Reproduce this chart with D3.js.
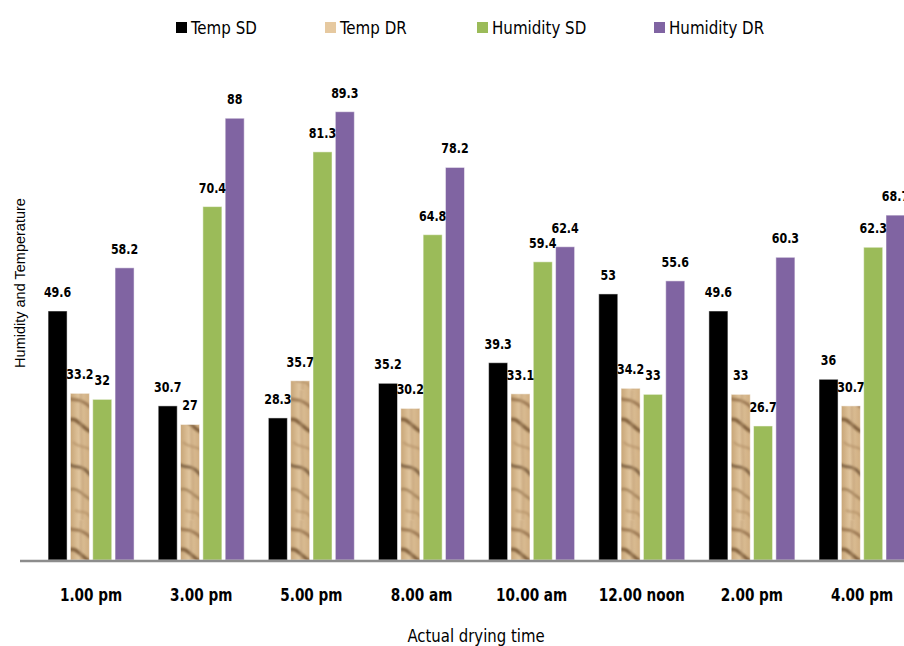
<!DOCTYPE html>
<html><head><meta charset="utf-8">
<script src="https://cdn.jsdelivr.net/npm/d3@7"></script>
<style>
body{margin:0;background:#fff;}
svg{display:block;}
.cond{font-family:"DejaVu Sans Condensed","Liberation Sans Narrow","Arial Narrow",sans-serif;font-stretch:condensed;}
</style></head>
<body><svg id="chart" width="904" height="646"></svg>
<script>
const categories = ["1.00 pm","3.00 pm","5.00 pm","8.00 am","10.00 am","12.00 noon","2.00 pm","4.00 pm"];
const seriesNames = ["Temp SD","Temp DR","Humidity SD","Humidity DR"];
const tempSD = [49.6,30.7,28.3,35.2,39.3,53,49.6,36];
const tempDR = [33.2,27,35.7,30.2,33.1,34.2,33,30.7];
const humiditySD = [32,70.4,81.3,64.8,59.4,33,26.7,62.3];
const humidityDR = [58.2,88,89.3,78.2,62.4,55.6,60.3,68.7];
const seriesValues = [tempSD,tempDR,humiditySD,humidityDR];
const xTitle = "Actual drying time";
const yTitle = "Humidity and Temperature";

const svg = d3.select("#chart");
const defs = svg.append("defs");
const blur = defs.append("filter").attr("id","soft").attr("x","-20%").attr("y","-20%").attr("width","140%").attr("height","140%");
blur.append("feGaussianBlur").attr("stdDeviation",0.9);
// wood/sand texture for Temp DR
const pat = defs.append("pattern").attr("id","wood").attr("patternUnits","userSpaceOnUse")
  .attr("width",22).attr("height",130);
const g0 = defs.append("linearGradient").attr("id","woodGrad").attr("x1",0).attr("x2",1).attr("y1",0).attr("y2",0);
g0.append("stop").attr("offset","0%").attr("stop-color","#c4a070");
g0.append("stop").attr("offset","45%").attr("stop-color","#e0c59e");
g0.append("stop").attr("offset","100%").attr("stop-color","#cdaa7c");
pat.append("rect").attr("width",22).attr("height",130).attr("fill","url(#woodGrad)");
const sg = pat.append("g").attr("filter","url(#soft)");
const streaks = [
  ["M0,8 C5,12 10,6 22,18","#8a6540",3,0.75],
  ["M0,30 C7,26 13,38 22,42","#6e4e2c",3.5,0.8],
  ["M4,52 C9,58 15,55 22,60","#a8845a",2,0.6],
  ["M0,74 C6,80 12,72 22,86","#5e4226",3,0.7],
  ["M0,100 C8,96 14,106 22,110","#8b6844",2.5,0.65],
  ["M6,120 C10,124 16,118 22,128","#a07a50",2,0.55],
  ["M12,0 C10,40 16,80 13,130","#b8946a",2.5,0.45]
];
streaks.forEach(s=>sg.append("path").attr("d",s[0]).attr("stroke",s[1]).attr("stroke-width",s[2])
  .attr("fill","none").attr("opacity",s[3]));

const colors = ["#000000","url(#wood)","#9bbb59","#8064a2"];
const legendColors = ["#000000","#e6c9a0","#9bbb59","#8064a2"];

function condense(sel, f){
  sel.each(function(){
    const w = this.getComputedTextLength();
    this.setAttribute("textLength", w*f);
    this.setAttribute("lengthAdjust","spacingAndGlyphs");
  });
}

const baseY = 560;
const y = d3.scaleLinear().domain([0,100]).range([baseY,58]);
const x0 = d3.scaleBand().domain(categories).range([36,917.1]).paddingInner(0).paddingOuter(0);
const x1 = d3.scaleBand().domain(seriesNames).range([-43,43]).paddingInner(0.148).paddingOuter(0);

const groups = svg.append("g").selectAll("g").data(categories).join("g")
  .attr("transform",c=>`translate(${x0(c)+x0.bandwidth()/2},0)`);

groups.each(function(c,i){
  const g = d3.select(this);
  seriesNames.forEach((s,j)=>{
    const v = seriesValues[j][i];
    g.append("rect").attr("x",x1(s)).attr("width",x1.bandwidth())
      .attr("y",y(v)).attr("height",baseY-y(v)).attr("fill",colors[j])
      .attr("stroke","#fff").attr("stroke-opacity",0.5).attr("stroke-width",1);
  });
  seriesNames.forEach((s,j)=>{
    const v = seriesValues[j][i];
    g.append("text").attr("class","cond vlab").attr("x",x1(s)+x1.bandwidth()/2).attr("y",y(v)-14)
      .attr("text-anchor","middle").attr("font-size",14).attr("font-weight","bold").attr("fill","#000").text(v);
  });
});
condense(svg.selectAll(".vlab"),0.88);

// axis baseline
svg.append("line").attr("x1",20).attr("x2",904).attr("y1",baseY+1).attr("y2",baseY+1)
  .attr("stroke","#8c8c8c").attr("stroke-width",2.5);

// x axis tick labels
const xAxis = d3.axisBottom(x0).tickSize(0).tickPadding(0);
const ax = svg.append("g").attr("transform",`translate(0,${baseY})`).call(xAxis);
ax.select(".domain").remove();
ax.selectAll("text").attr("class","cond").attr("font-size",18).attr("font-weight","bold").attr("fill","#000")
  .attr("font-family",null).attr("dy",null).attr("y",41);
condense(ax.selectAll("text"),0.84);

// axis titles
const xt = svg.append("text").attr("class","cond").attr("x",476).attr("y",642).attr("text-anchor","middle")
  .attr("font-size",18).attr("fill","#000").text(xTitle);
condense(xt,0.92);
svg.append("text").attr("transform","translate(25,283) rotate(-90)").attr("text-anchor","middle")
  .attr("font-family","Liberation Sans, Arial, sans-serif").attr("font-size",14.5).attr("fill","#000").text(yTitle);

// legend
const legendX = [176,325,477,654];
const leg = svg.append("g").selectAll("g").data(seriesNames).join("g")
  .attr("transform",(d,i)=>`translate(${legendX[i]},0)`);
leg.append("rect").attr("x",0).attr("y",22).attr("width",11).attr("height",11).attr("fill",(d,i)=>legendColors[i]);
const lt = leg.append("text").attr("class","cond").attr("x",15).attr("y",34).attr("font-size",18).attr("fill","#000").text(d=>d);
condense(lt,0.93);
</script></body></html>
